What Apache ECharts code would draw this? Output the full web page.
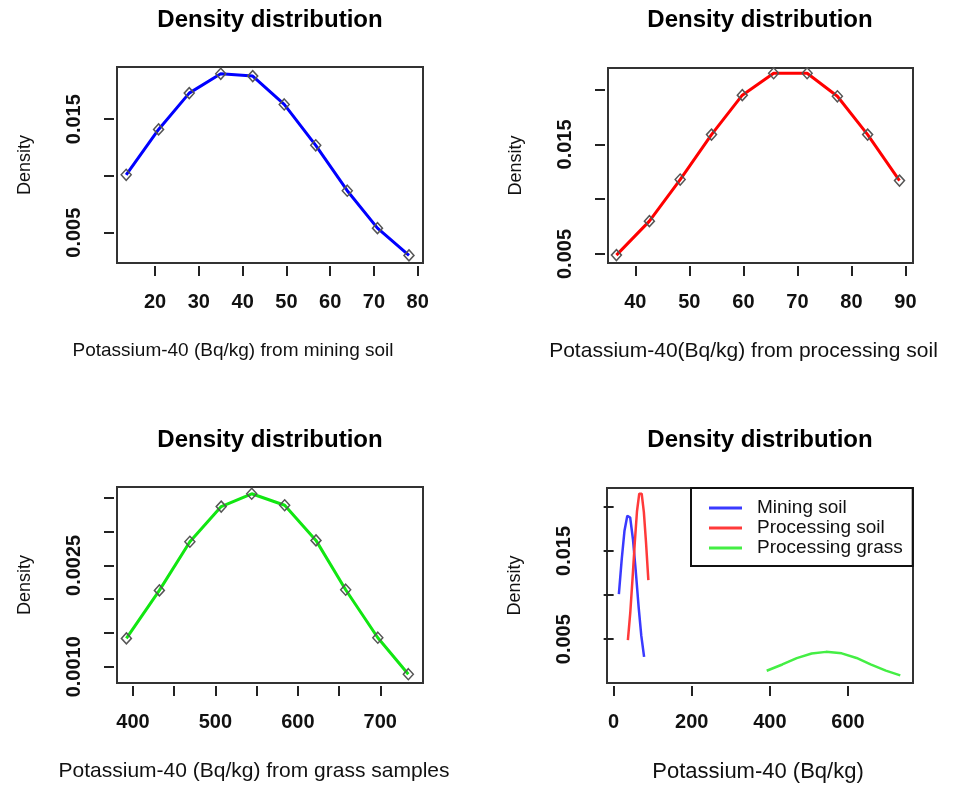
<!DOCTYPE html>
<html>
<head>
<meta charset="utf-8">
<script src="https://cdn.jsdelivr.net/npm/echarts@6/dist/echarts.min.js"></script>
<style>
html,body{margin:0;padding:0;background:#fff;}
#chart{width:979px;height:785px;}
</style>
</head>
<body>
<div id="chart"></div>
<script>
// ---- data ----
const miningX = [13.4, 20.8, 27.8, 35.0, 42.3, 49.5, 56.7, 63.9, 70.8, 78.0];
const miningY = [0.0101, 0.0141, 0.0173, 0.0190, 0.0188, 0.0163, 0.0127, 0.0087, 0.0054, 0.0030];

const processingX = [36.5, 42.6, 48.3, 54.1, 59.8, 65.6, 71.8, 77.4, 83.0, 88.9];
const processingY = [0.0049, 0.0080, 0.0118, 0.0159, 0.0195, 0.0215, 0.0215, 0.0194, 0.0159, 0.0117];

const grassX = [392, 432, 469, 507, 544, 584, 622, 658, 697, 734];
const grassY = [0.00142, 0.00213, 0.00285, 0.00337, 0.00356, 0.00339, 0.00287, 0.00214, 0.00143, 0.00089];

const titles = ['Density distribution', 'Density distribution', 'Density distribution', 'Density distribution'];
const xNames = ['Potassium-40 (Bq/kg) from mining soil', 'Potassium-40(Bq/kg) from processing soil',
                'Potassium-40 (Bq/kg) from grass samples', 'Potassium-40 (Bq/kg)'];
const yName = 'Density';
const legendNames = ['Mining soil', 'Processing soil', 'Processing grass'];

const xTicks1 = [20, 30, 40, 50, 60, 70, 80];
const xTicks2 = [40, 50, 60, 70, 80, 90];
const xTicks3 = [400, 450, 500, 550, 600, 650, 700];
const xLabels3 = [400, 500, 600, 700];
const xTicks4 = [0, 200, 400, 600];

const yTicks1 = [0.005, 0.010, 0.015];
const yTicks2 = [0.005, 0.010, 0.015, 0.020];
const yTicks3 = [0.0010, 0.0015, 0.0020, 0.0025, 0.0030, 0.0035];
const yLabels3 = [0.0010, 0.0025];
const yTicks4 = [0.005, 0.010, 0.015, 0.020];
const yLabelsSoil = [0.005, 0.015];

// ---- chart ----
const FONT = '"Liberation Sans", Arial, sans-serif';
const pair = (xs, ys) => xs.map((x, i) => [x, ys[i]]);

const grids = [
  {left: 117, top: 67, width: 306, height: 196},
  {left: 608, top: 68, width: 305, height: 195},
  {left: 117, top: 487, width: 306, height: 196},
  {left: 607, top: 488, width: 306, height: 195}
];

function xAxis(i, min, max, ticks, labels, nameSize, shiftLeft) {
  return {
    gridIndex: i, type: 'value', min: min, max: max, offset: 3,
    axisLine: {show: false}, splitLine: {show: false},
    axisTick: {show: true, customValues: ticks, length: 10, lineStyle: {color: '#222', width: 2}},
    axisLabel: {customValues: labels, margin: 26, fontSize: 20, color: '#111', fontFamily: FONT, fontWeight: 'bold'},
    name: xNames[i], nameLocation: 'middle', nameGap: 75,
    nameTextStyle: {fontSize: nameSize, color: '#111', fontFamily: FONT, padding: [0, shiftLeft * 2, 0, 0]}
  };
}
function yAxis(i, min, max, ticks, labels, digits) {
  return {
    gridIndex: i, type: 'value', min: min, max: max, offset: 3,
    axisLine: {show: false}, splitLine: {show: false},
    axisTick: {show: true, customValues: ticks, length: 10, lineStyle: {color: '#222', width: 2}},
    axisLabel: {customValues: labels, rotate: 90, margin: 30, fontSize: 20, color: '#111', fontFamily: FONT, fontWeight: 'bold',
      formatter: v => Number(v).toFixed(digits)},
    name: yName, nameLocation: 'middle', nameGap: 80,
    nameTextStyle: {fontSize: 18, color: '#111', fontFamily: FONT}
  };
}
function pointSeries(i, name, xs, ys, color) {
  return {
    type: 'line', name: name, xAxisIndex: i, yAxisIndex: i, data: pair(xs, ys),
    symbol: 'diamond', symbolSize: [10, 11], showSymbol: true,
    lineStyle: {color: color, width: 3}, z: 2,
    itemStyle: {color: 'rgba(255,255,255,0)', borderColor: '#555', borderWidth: 1.5}
  };
}
function plainSeries(name, xs, ys, color) {
  return {
    type: 'line', name: name, xAxisIndex: 3, yAxisIndex: 3, data: pair(xs, ys),
    symbol: 'none', color: color, lineStyle: {color: color, width: 2.5}, itemStyle: {color: color}
  };
}

const option = {
  animation: false,
  backgroundColor: '#fff',
  title: [
    {text: titles[0], left: 270, top: 8, textAlign: 'center', padding: 0},
    {text: titles[1], left: 760, top: 8, textAlign: 'center', padding: 0},
    {text: titles[2], left: 270, top: 428, textAlign: 'center', padding: 0},
    {text: titles[3], left: 760, top: 428, textAlign: 'center', padding: 0}
  ].map(t => Object.assign(t, {textStyle: {fontSize: 24, fontWeight: 'bold', color: '#000', fontFamily: FONT}})),
  grid: grids.map(g => Object.assign({show: true, borderColor: '#333', borderWidth: 2, backgroundColor: 'transparent'}, g)),
  xAxis: [
    xAxis(0, 11.3, 81.2, xTicks1, xTicks1, 19, 37),
    xAxis(1, 34.94, 91.4, xTicks2, xTicks2, 21, 17),
    xAxis(2, 380.6, 751.8, xTicks3, xLabels3, 21, 16),
    xAxis(3, -17, 766.6, xTicks4, xTicks4, 22, 2)
  ],
  yAxis: [
    yAxis(0, 0.00233, 0.0196, yTicks1, yLabelsSoil, 3),
    yAxis(1, 0.00418, 0.02198, yTicks2, yLabelsSoil, 3),
    yAxis(2, 0.00076, 0.00366, yTicks3, yLabels3, 4),
    yAxis(3, 0.00003, 0.02214, yTicks4, yLabelsSoil, 3)
  ],
  legend: {
    data: legendNames, orient: 'vertical', left: 691, top: 488,
    padding: [10, 10, 8, 18], itemGap: 0, itemWidth: 33, itemHeight: 3, icon: 'rect',
    borderColor: '#111', borderWidth: 2, backgroundColor: '#fff',
    textStyle: {fontSize: 19, color: '#111', fontFamily: FONT, lineHeight: 20, padding: [0, 0, 0, 10]}
  },
  series: [
    pointSeries(0, 'mining', miningX, miningY, '#0000ff'),
    pointSeries(1, 'processing', processingX, processingY, '#ff0000'),
    pointSeries(2, 'grass', grassX, grassY, '#11e611'),
    plainSeries(legendNames[0], miningX, miningY, '#3a3aff'),
    plainSeries(legendNames[1], processingX, processingY, '#ff3a3a'),
    plainSeries(legendNames[2], grassX, grassY, '#44ee44')
  ]
};

const chart = echarts.init(document.getElementById('chart'), null, {renderer: 'canvas'});
chart.setOption(option);
</script>
</body>
</html>
